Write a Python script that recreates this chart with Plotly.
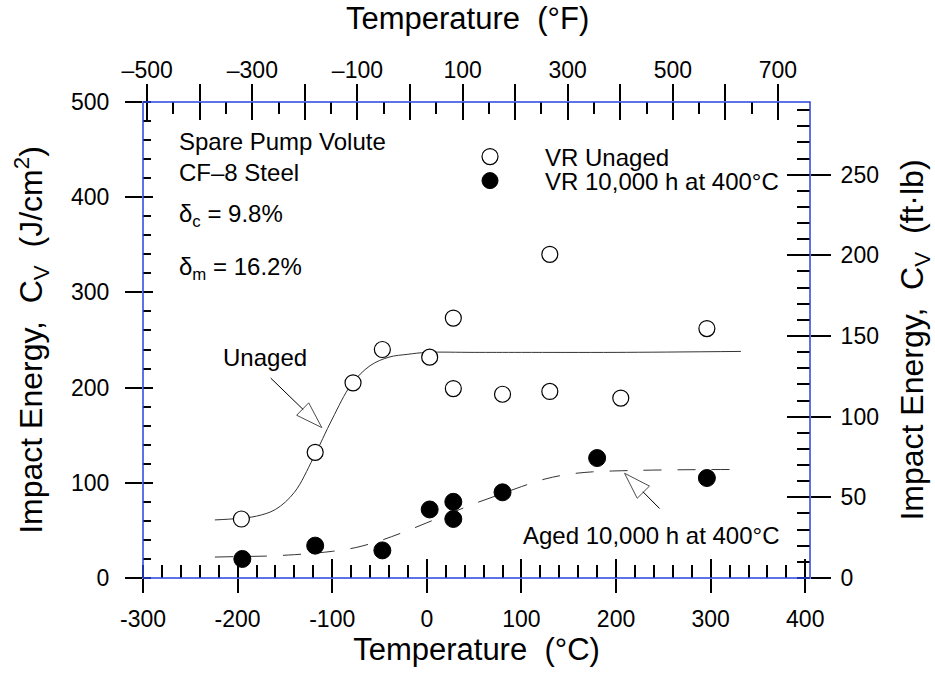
import plotly.graph_objects as go

# ---------------- data ----------------
unaged_T = [-196, -118, -78, -47, 3, 28, 28, 80, 130, 130, 205, 296]
unaged_E = [62, 132, 205, 240, 232, 273, 199, 193, 196, 340, 189, 262]

aged_T = [-195, -118, -47, 3, 28, 28, 80, 180, 296]
aged_E = [20, 34, 29, 72, 80, 62, 90, 126, 105]

fit_unaged_T = [-224, -200, -180, -160, -140, -120, -100, -80, -60, -40, -20, 0, 50, 100, 200, 332]
fit_unaged_E = [61, 62.5, 65, 72, 90, 126, 167, 203, 223, 232, 235, 237, 237, 237, 237, 238]

fit_aged_T = [-224, -200, -170, -140, -120, -100, -75, -50, -25, 0, 25, 50, 75, 100, 125, 150, 175, 200, 250, 332]
fit_aged_E = [22, 22.5, 23, 24.5, 26, 28, 32, 39, 48, 58, 68, 78, 87, 96, 104, 109, 111.5, 112.5, 113.5, 114]

# annotation arrows: (tail, tip) in data units
arrow_unaged_T = [-165, -111]
arrow_unaged_E = [210, 158]
arrow_aged_T = [246, 209]
arrow_aged_E = [73, 110]

x_range_C = [-300, 405]
y_range_J = [0, 500]
bottom_ticks = [-300, -200, -100, 0, 100, 200, 300, 400]
top_label_vals = [-500, -300, -100, 100, 300, 500, 700]
top_label_text = ["–500", "–300", "–100", "100", "300", "500", "700"]
top_ticks = list(range(-500, 701, 100))
top_minor = list(range(-450, 651, 100))
ftlb_per_Jcm2 = 0.8 * 0.7376

x_range_F = [c * 9 / 5 + 32 for c in x_range_C]
y_range_ft = [v * ftlb_per_Jcm2 for v in y_range_J]

FONT = "Liberation Sans, Arial, Helvetica, sans-serif"
BLUE = "#2a44e0"
TW = 1.8

fig = go.Figure()

# fitted curves
fig.add_trace(go.Scatter(x=fit_unaged_T, y=fit_unaged_E, mode="lines", line=dict(color="#333", width=1, shape="spline"),
                         showlegend=False, hoverinfo="skip"))
fig.add_trace(go.Scatter(x=fit_aged_T, y=fit_aged_E, mode="lines",
                         line=dict(color="#333", width=1, shape="spline", dash="18px,16px"),
                         showlegend=False, hoverinfo="skip"))

# data points
fig.add_trace(go.Scatter(x=unaged_T, y=unaged_E, mode="markers", name="VR Unaged", legend="legend",
                         marker=dict(symbol="circle", size=16, color="white", line=dict(color="black", width=1.2))))
fig.add_trace(go.Scatter(x=aged_T, y=aged_E, mode="markers", name="VR 10,000 h at 400°C", legend="legend2",
                         marker=dict(symbol="circle", size=17, color="black", line=dict(color="black", width=1))))

# arrows
for ax_T, ax_E in [(arrow_unaged_T, arrow_unaged_E), (arrow_aged_T, arrow_aged_E)]:
    fig.add_trace(go.Scatter(x=ax_T, y=ax_E, mode="lines+markers", showlegend=False, hoverinfo="skip",
                             line=dict(color="black", width=1),
                             marker=dict(symbol=["circle", "arrow"], size=[0, 28], color="white",
                                         angleref="previous", line=dict(color="black", width=[0, 1]))))

# dummy traces to activate the extra axes
for xa, ya in [("x2", "y2"), ("x3", "y3"), ("x4", "y4"), ("x5", "y")]:
    fig.add_trace(go.Scatter(x=[None], y=[None], xaxis=xa, yaxis=ya, showlegend=False, hoverinfo="skip"))

tickfont = dict(family=FONT, size=23, color="black")
xtitlefont = dict(family=FONT, size=31, color="black")
ytitlefont = dict(family=FONT, size=32, color="black")
legfont = dict(family=FONT, size=24, color="black")

plain = dict(showline=False, showgrid=False, zeroline=False, linecolor="black")

fig.update_layout(
    width=935, height=674,
    margin=dict(l=143, r=125, t=102, b=96),
    paper_bgcolor="white", plot_bgcolor="white",
    font=dict(family=FONT, color="black"),
    showlegend=True,
    legend=dict(x=0.4378, y=0.8845, xanchor="left", yanchor="middle", bgcolor="rgba(0,0,0,0)",
                font=legfont, itemwidth=100),
    legend2=dict(x=0.4378, y=0.834, xanchor="left", yanchor="middle", bgcolor="rgba(0,0,0,0)",
                 font=legfont, itemwidth=100),
    xaxis=dict(range=x_range_C, tickvals=bottom_ticks, ticktext=[str(v) for v in bottom_ticks],
               ticks="outside", ticklen=14, tickwidth=TW, tickcolor="black",
               minor=dict(ticks="inside", ticklen=13, dtick=20, tick0=0, tickwidth=TW, tickcolor="black", showgrid=False),
               tickfont=tickfont, ticklabelstandoff=6,
               title=dict(text="Temperature  (°C)", font=xtitlefont, standoff=6), **plain),
    xaxis3=dict(range=x_range_C, overlaying="x", side="bottom", anchor="y", tickvals=bottom_ticks,
                ticks="inside", ticklen=19, tickwidth=TW, tickcolor="black", showticklabels=False, **plain),
    xaxis2=dict(range=x_range_F, overlaying="x", side="top", anchor="y", tickvals=top_label_vals, ticktext=top_label_text,
                ticks="", tickfont=tickfont, ticklabelstandoff=18, **plain),
    xaxis4=dict(range=x_range_F, overlaying="x", side="top", anchor="y", tickvals=top_ticks,
                ticks="outside", ticklen=17, tickwidth=TW, tickcolor="black", showticklabels=False,
                minor=dict(ticks="inside", ticklen=12, tickvals=top_minor, tickwidth=TW, tickcolor="black", showgrid=False),
                **plain),
    xaxis5=dict(range=x_range_F, overlaying="x", side="top", anchor="y", tickvals=top_ticks,
                ticks="inside", ticklen=18, tickwidth=TW, tickcolor="black", showticklabels=False, **plain),
    yaxis=dict(range=y_range_J, dtick=100, tick0=0, ticks="outside", ticklen=17, tickwidth=TW, tickcolor="black",
               minor=dict(ticks="inside", ticklen=8, dtick=20, tick0=0, tickwidth=TW, tickcolor="black", showgrid=False),
               tickfont=tickfont, ticklabelstandoff=11,
               title=dict(text="Impact Energy,  C<sub>V</sub>  (J/cm<sup>2</sup>)", font=ytitlefont, standoff=18), **plain),
    yaxis3=dict(range=y_range_J, overlaying="y", side="left", anchor="x", dtick=100, tick0=0,
                ticks="inside", ticklen=10, tickwidth=TW, tickcolor="black", showticklabels=False, **plain),
    yaxis2=dict(range=y_range_ft, overlaying="y", side="right", anchor="x", dtick=50, tick0=0,
                ticks="outside", ticklen=20, tickwidth=TW, tickcolor="black",
                minor=dict(ticks="inside", ticklen=13, dtick=10, tick0=0, tickwidth=TW, tickcolor="black", showgrid=False),
                tickfont=tickfont, ticklabelstandoff=5,
                title=dict(text="Impact Energy,  C<sub>V</sub>  (ft·lb)", font=ytitlefont, standoff=22), **plain),
    yaxis4=dict(range=y_range_ft, overlaying="y", side="right", anchor="x", dtick=50, tick0=0,
                ticks="inside", ticklen=23, tickwidth=TW, tickcolor="black", showticklabels=False, **plain),
)

# blue plot frame
fig.add_shape(type="rect", xref="paper", yref="paper", x0=0, x1=1, y0=0, y1=1,
              line=dict(color=BLUE, width=1.5), fillcolor="rgba(0,0,0,0)", layer="above")

# top axis title (placed as paper text)
fig.add_annotation(xref="paper", yref="paper", x=0.486, y=1.1744, text="Temperature  (°F)",
                   showarrow=False, xanchor="center", yanchor="middle", font=xtitlefont)

afont = dict(family=FONT, size=24, color="black")
notes = [
    (-264, 458, "Spare Pump Volute"),
    (-264, 426, "CF–8 Steel"),
    (-264, 381, "δ<sub>c</sub> = 9.8%"),
    (-264, 325, "δ<sub>m</sub> = 16.2%"),
]
for x, y, t in notes:
    fig.add_annotation(x=x, y=y, text=t, showarrow=False, xanchor="left", yanchor="middle", font=afont)
fig.add_annotation(x=-171, y=232, text="Unaged", showarrow=False, xanchor="center", yanchor="middle", font=afont)
fig.add_annotation(x=374, y=45, text="Aged 10,000 h at 400°C", showarrow=False, xanchor="right", yanchor="middle", font=afont)

fig.write_html("out.html")
